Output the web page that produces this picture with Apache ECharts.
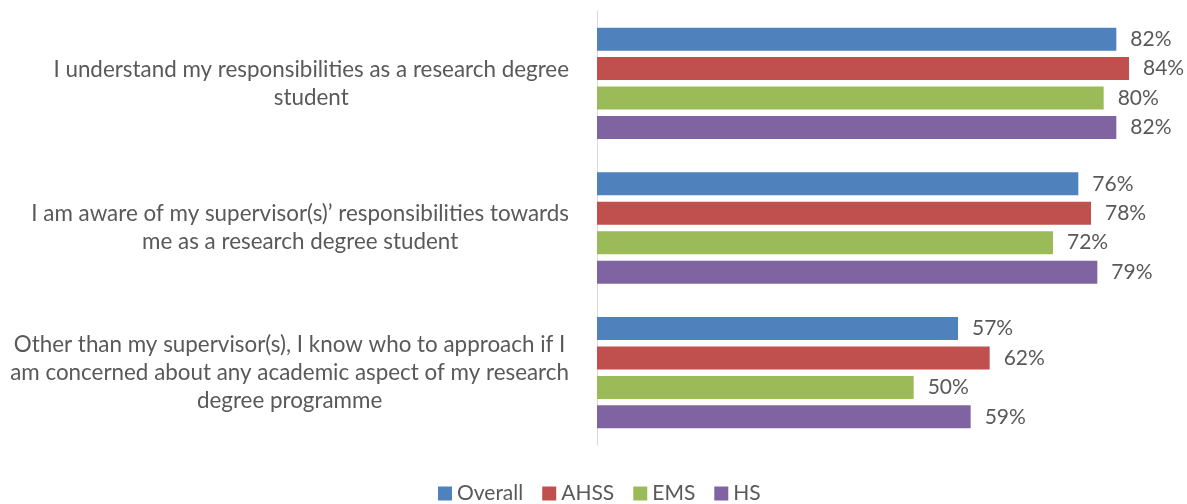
<!DOCTYPE html>
<html>
<head>
<meta charset="utf-8">
<script src="https://cdn.jsdelivr.net/npm/echarts@6/dist/echarts.min.js"></script>
<style>
  html, body { margin: 0; padding: 0; background: #ffffff; }
  #chart { width: 1187px; height: 504px; }
</style>
</head>
<body>
<div id="chart"></div>
<script>
// Survey statements, each pre-wrapped into lines
const statements = [
  ['I understand my responsibilities as a research degree', 'student'],
  ['I am aware of my supervisor(s)\u2019 responsibilities towards', 'me as a research degree student'],
  ['Other than my supervisor(s), I know who to approach if I', 'am concerned about any academic aspect of my research', 'degree programme']
];
const categories = statements.map(lines => lines.join('\n'));

// Share of respondents agreeing (%), per faculty group
const seriesNames = ['Overall', 'AHSS', 'EMS', 'HS'];
const overall = [82, 76, 57];
const ahss = [84, 78, 62];
const ems = [80, 72, 50];
const hs = [82, 79, 59];

const colors = ['#4F81BD', '#C0504D', '#9BBB59', '#8064A2'];
const textColor = '#595959';
const fontFamily = 'Lato, "Open Sans", sans-serif';

const chart = echarts.init(document.getElementById('chart'), null, { renderer: 'canvas' });

const makeSeries = (name, values, i) => ({
  name: name,
  type: 'bar',
  data: values,
  barGap: '28%',
  barCategoryGap: '23%',
  itemStyle: { color: colors[i] },
  label: {
    show: true,
    position: 'right',
    distance: 14,
    formatter: p => p.value + '%',
    color: textColor,
    fontFamily: fontFamily,
    fontSize: 21
  }
});

chart.setOption({
  animation: false,
  color: colors,
  grid: { left: 597, right: 20, top: 11, bottom: 59 },
  xAxis: {
    type: 'value',
    min: 0,
    max: 90,
    show: false
  },
  yAxis: {
    type: 'category',
    data: categories,
    inverse: true,
    axisLine: { show: true, lineStyle: { color: '#D9D9D9', width: 1 } },
    axisTick: { show: false },
    axisLabel: {
      margin: 28,
      color: textColor,
      fontFamily: fontFamily,
      fontSize: 22.4,
      lineHeight: 28,
      // centre every line inside the label block
      formatter: v => v.split('\n').map(l => '{c|' + l + '}').join('\n'),
      rich: {
        c: { align: 'center', color: textColor, fontFamily: fontFamily, fontSize: 22.4, lineHeight: 28 }
      }
    }
  },
  legend: {
    top: 478,
    left: 433,
    itemWidth: 14,
    itemHeight: 14,
    itemGap: 19,
    icon: 'rect',
    textStyle: { color: textColor, fontFamily: fontFamily, fontSize: 21, lineHeight: 21 },
    data: seriesNames
  },
  series: [
    makeSeries(seriesNames[0], overall, 0),
    makeSeries(seriesNames[1], ahss, 1),
    makeSeries(seriesNames[2], ems, 2),
    makeSeries(seriesNames[3], hs, 3)
  ]
});
</script>
</body>
</html>
